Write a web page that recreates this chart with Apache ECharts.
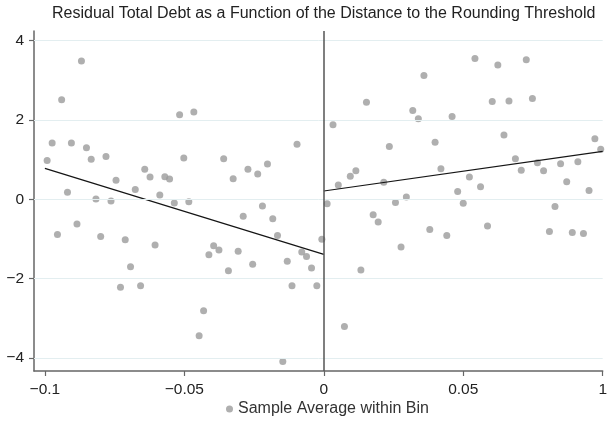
<!DOCTYPE html>
<html><head><meta charset="utf-8">
<script src="https://cdn.jsdelivr.net/npm/echarts@6/dist/echarts.min.js"></script>
<style>html,body{margin:0;padding:0;background:#fff}#c{width:610px;height:430px}</style>
</head><body><div id="c"></div>
<script>
const titleText = "Residual Total Debt as a Function of the Distance to the Rounding Threshold";
const legendName = "Sample Average within Bin";

const leftX = [-0.0992,-0.0974,-0.0955,-0.0940,-0.0919,-0.0905,-0.0885,-0.0869,-0.0851,-0.0834,
  -0.0817,-0.0800,-0.0781,-0.0763,-0.0745,-0.0729,-0.0712,-0.0693,-0.0676,-0.0657,
  -0.0642,-0.0623,-0.0605,-0.0588,-0.0570,-0.0553,-0.0536,-0.0517,-0.0502,-0.0484,
  -0.0466,-0.0447,-0.0431,-0.0412,-0.0395,-0.0376,-0.0359,-0.0342,-0.0325,-0.0307,
  -0.0289,-0.0272,-0.0255,-0.0237,-0.0220,-0.0202,-0.0183,-0.0166,-0.0147,-0.0131,
  -0.0114,-0.0096,-0.0079,-0.0062,-0.0044,-0.0025,-0.0007];
const leftY = [0.98,1.42,-0.89,2.51,0.18,1.42,-0.62,3.49,1.30,1.01,
  0.01,-0.94,1.08,-0.04,0.48,-2.22,-1.02,-1.70,0.25,-2.18,
  0.76,0.56,-1.15,0.11,0.57,0.51,-0.09,2.13,1.04,-0.06,
  2.20,-3.44,-2.81,-1.40,-1.17,-1.28,1.02,-1.80,0.52,-1.31,
  -0.43,0.76,-1.64,0.64,-0.17,0.89,-0.49,-0.91,-4.09,-1.56,
  -2.18,1.39,-1.33,-1.44,-1.73,-2.18,-1.01];

const rightX = [0.0012,0.0033,0.0052,0.0074,0.0095,0.0115,0.0133,0.0153,0.0177,0.0195,
  0.0215,0.0235,0.0257,0.0277,0.0296,0.0319,0.0339,0.0359,0.0380,0.0399,
  0.0420,0.0441,0.0460,0.0480,0.0500,0.0522,0.0542,0.0562,0.0587,0.0604,
  0.0624,0.0646,0.0664,0.0687,0.0708,0.0726,0.0748,0.0766,0.0788,0.0809,
  0.0829,0.0849,0.0871,0.0891,0.0911,0.0931,0.0951,0.0972,0.0993];
const rightY = [-0.11,1.88,0.36,-3.21,0.58,0.72,-1.78,2.45,-0.39,-0.57,
  0.43,1.33,-0.08,-1.20,0.06,2.24,2.03,3.12,-0.76,1.44,
  0.77,-0.91,2.09,0.20,-0.10,0.56,3.55,0.32,-0.67,2.47,
  3.39,1.62,2.48,1.02,0.73,3.52,2.54,0.92,0.72,-0.81,
  -0.18,0.90,0.44,-0.84,0.95,-0.86,0.22,1.53,1.26];

const fitLeftX = [-0.1, 0];
const fitLeftY = [0.78, -1.39];
const fitRightX = [0, 0.1];
const fitRightY = [0.21, 1.21];

const xTicks = [-0.1, -0.05, 0, 0.05, 0.1];
const xTickLabels = ["\u22120.1", "\u22120.05", "0", "0.05", "1"];
const yTicks = [-4, -2, 0, 2, 4];
const yTickLabels = ["\u22124", "\u22122", "0", "2", "4"];

const FONT = "'Liberation Sans', Arial, Helvetica, sans-serif";
const pts = leftX.map((x, i) => [x, leftY[i]]).concat(rightX.map((x, i) => [x, rightY[i]]));
const zip = (a, b) => a.map((v, i) => [v, b[i]]);

const gridLines = yTicks.map(v => ({ yAxis: v, lineStyle: { color: '#e3eef0', width: 1, type: 'solid' } }));
gridLines.push({ xAxis: 0, lineStyle: { color: '#555', width: 1.5, type: 'solid' } });

const chart = echarts.init(document.getElementById('c'), null, { renderer: 'canvas' });
chart.setOption({
  animation: false,
  backgroundColor: '#fff',
  title: {
    text: titleText, left: 47, top: 1,
    textStyle: { fontFamily: FONT, fontSize: 16, fontWeight: 'normal', color: '#222' }
  },
  legend: {
    data: [legendName], bottom: 8, left: 221,
    icon: 'circle', itemWidth: 7, itemHeight: 7, itemGap: 6,
    textStyle: { fontFamily: FONT, fontSize: 16, color: '#333' }
  },
  grid: { left: 34, right: 3, top: 31, bottom: 59 },
  xAxis: {
    type: 'value', min: -0.10391, max: 0.1,
    splitLine: { show: false },
    axisLine: { show: true, onZero: false, lineStyle: { color: '#666', width: 1.5 } },
    axisTick: { show: true, length: 5, lineStyle: { color: '#666', width: 1.2 }, customValues: xTicks },
    axisLabel: {
      customValues: xTicks, margin: 11, fontFamily: FONT, fontSize: 15.5, color: '#222',
      formatter: v => { const i = xTicks.findIndex(t => Math.abs(t - v) < 1e-9); return i >= 0 ? xTickLabels[i] : ''; }
    }
  },
  yAxis: {
    type: 'value', min: -4.33, max: 4.245,
    splitLine: { show: false },
    axisLine: { show: true, onZero: false, lineStyle: { color: '#666', width: 1.5 } },
    axisTick: { show: true, length: 5, lineStyle: { color: '#666', width: 1.2 }, customValues: yTicks },
    axisLabel: {
      customValues: yTicks, margin: 10, fontFamily: FONT, fontSize: 15.5, color: '#222',
      formatter: v => { const i = yTicks.findIndex(t => Math.abs(t - v) < 1e-9); return i >= 0 ? yTickLabels[i] : ''; }
    }
  },
  series: [
    {
      name: 'ref', type: 'line', data: [], z: 1, silent: true,
      markLine: { silent: true, symbol: ['none', 'none'], label: { show: false }, data: gridLines, animation: false }
    },
    {
      name: legendName, type: 'scatter', data: pts, z: 3,
      symbol: 'circle', symbolSize: 7,
      itemStyle: { color: '#9b9b9b' }
    },
    {
      name: 'fitL', type: 'line', data: zip(fitLeftX, fitLeftY), z: 4,
      symbol: 'none', lineStyle: { color: '#151515', width: 1.2 }
    },
    {
      name: 'fitR', type: 'line', data: zip(fitRightX, fitRightY), z: 4,
      symbol: 'none', lineStyle: { color: '#151515', width: 1.2 }
    }
  ]
});
</script>
</body></html>
